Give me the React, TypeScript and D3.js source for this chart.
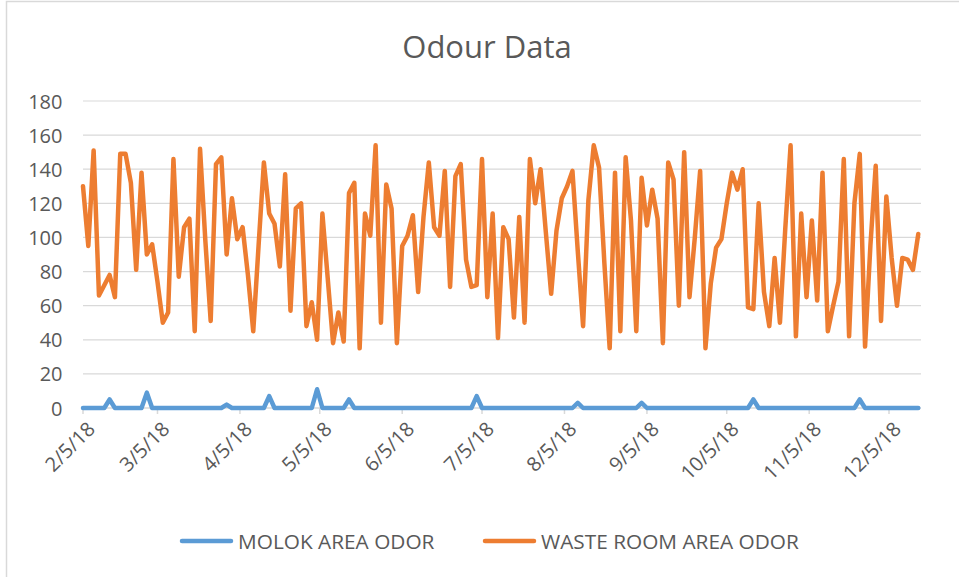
import React from "react";
import * as d3 from "d3";

// readings every second day, starting 2/5/18
const firstDay = "2/5/18";
const stepDays = 2;

const tickLabels = ["2/5/18", "3/5/18", "4/5/18", "5/5/18", "6/5/18", "7/5/18", "8/5/18", "9/5/18", "10/5/18", "11/5/18", "12/5/18"];
const yTicks = [0, 20, 40, 60, 80, 100, 120, 140, 160, 180];

const molokOdor = [
    0, 0, 0, 0, 0, 5, 0, 0, 0, 0,
    0, 0, 9, 0, 0, 0, 0, 0, 0, 0,
    0, 0, 0, 0, 0, 0, 0, 2, 0, 0,
    0, 0, 0, 0, 0, 7, 0, 0, 0, 0,
    0, 0, 0, 0, 11, 0, 0, 0, 0, 0,
    5, 0, 0, 0, 0, 0, 0, 0, 0, 0,
    0, 0, 0, 0, 0, 0, 0, 0, 0, 0,
    0, 0, 0, 0, 7, 0, 0, 0, 0, 0,
    0, 0, 0, 0, 0, 0, 0, 0, 0, 0,
    0, 0, 0, 3, 0, 0, 0, 0, 0, 0,
    0, 0, 0, 0, 0, 3, 0, 0, 0, 0,
    0, 0, 0, 0, 0, 0, 0, 0, 0, 0,
    0, 0, 0, 0, 0, 0, 5, 0, 0, 0,
    0, 0, 0, 0, 0, 0, 0, 0, 0, 0,
    0, 0, 0, 0, 0, 0, 5, 0, 0, 0,
    0, 0, 0, 0, 0, 0, 0, 0
];

const wasteRoomOdor = [
    130, 95, 151, 66, 72, 78, 65, 149, 149, 132,
    81, 138, 90, 96, 74, 50, 56, 146, 77, 106,
    111, 45, 152, 98, 51, 143, 147, 90, 123, 99,
    106, 78, 45, 95, 144, 114, 108, 83, 137, 57,
    117, 120, 48, 62, 40, 114, 76, 38, 56, 39,
    126, 132, 35, 114, 101, 154, 50, 131, 117, 38,
    95, 101, 113, 68, 112, 144, 106, 101, 139, 71,
    136, 143, 87, 71, 72, 146, 65, 114, 41, 106,
    99, 53, 112, 50, 146, 120, 140, 103, 67, 104,
    123, 130, 139, 92, 48, 122, 154, 141, 85, 35,
    138, 45, 147, 110, 45, 135, 107, 128, 111, 38,
    144, 134, 60, 150, 65, 100, 139, 35, 73, 94,
    99, 120, 138, 128, 140, 59, 58, 120, 68, 48,
    88, 50, 105, 154, 42, 114, 65, 110, 63, 138,
    45, 60, 74, 146, 42, 120, 149, 36, 95, 142,
    51, 124, 88, 60, 88, 87, 81, 102
];

const BLUE = "#5B9BD5";
const ORANGE = "#ED7D31";
const TEXT = "#595959";
const GRID = "#D9D9D9";
const FONT = "'Open Sans', sans-serif";

export default function App() {
    const width = 959;
    const height = 577;
    const margin = { top: 101, right: 38, bottom: 169, left: 83 };

    const parse = d3.utcParse("%m/%d/%y");
    const start = parse(firstDay)!;
    const dates = wasteRoomOdor.map((_, i) => d3.utcDay.offset(start, i * stepDays));
    const tickDates = tickLabels.map(t => parse(t)!);

    // Excel-style date axis: month ticks spaced by real days
    const x = d3.scaleUtc([tickDates[0], tickDates[tickDates.length - 1]], [margin.left, 889]);
    const y = d3.scaleLinear([0, 180], [height - margin.bottom, margin.top]);
    const plotRight = width - margin.right;

    const line = d3.line<number>()
        .x((d, i) => x(dates[i]))
        .y(d => y(d));

    return <svg width={width} height={height} style={{ position: "absolute", left: 0, top: 0, background: "white" }}>
        <rect x={6.5} y={1.5} width={width + 10} height={height + 10} fill="white" stroke={GRID} strokeWidth={1.5} />

        <text x={487} y={58} textAnchor="middle" fontFamily={FONT} fontSize={31} fill={TEXT}>Odour Data</text>

        {/* Grid + y labels */}
        <g>
            {yTicks.map(t => (
                <g key={t}>
                    {t > 0 && <line x1={margin.left} x2={plotRight} y1={y(t)} y2={y(t)} stroke={GRID} strokeWidth={1.2} />}
                    <text x={62.5} y={y(t)} textAnchor="end" dominantBaseline="central"
                        fontFamily={FONT} fontSize={20} fill={TEXT}>{t}</text>
                </g>
            ))}
        </g>

        {/* x axis */}
        <line x1={margin.left} x2={plotRight} y1={y(0)} y2={y(0)} stroke={GRID} strokeWidth={1.5} />
        {tickDates.map((d, i) => (
            <g key={i}>
                <line x1={x(d)} x2={x(d)} y1={y(0)} y2={y(0) + 6} stroke={GRID} strokeWidth={1.5} />
                <text transform={`translate(${x(d) + 8},${y(0) + 17}) rotate(-45)`} textAnchor="end"
                    dominantBaseline="central" fontFamily={FONT} fontSize={20} fill={TEXT}>{tickLabels[i]}</text>
            </g>
        ))}

        <path d={line(molokOdor)!} fill="none" stroke={BLUE} strokeWidth={4.5} strokeLinejoin="round" strokeLinecap="round" />
        <path d={line(wasteRoomOdor)!} fill="none" stroke={ORANGE} strokeWidth={4.5} strokeLinejoin="round" strokeLinecap="round" />

        {/* Legend */}
        <g fontFamily={FONT} fontSize={20.8} fill={TEXT}>
            <line x1={182} x2={231} y1={541} y2={541} stroke={BLUE} strokeWidth={4.5} strokeLinecap="round" />
            <text x={238} y={541} dominantBaseline="central">MOLOK AREA ODOR</text>
            <line x1={485} x2={534} y1={541} y2={541} stroke={ORANGE} strokeWidth={4.5} strokeLinecap="round" />
            <text x={541} y={541} dominantBaseline="central">WASTE ROOM AREA ODOR</text>
        </g>
    </svg>;
}
